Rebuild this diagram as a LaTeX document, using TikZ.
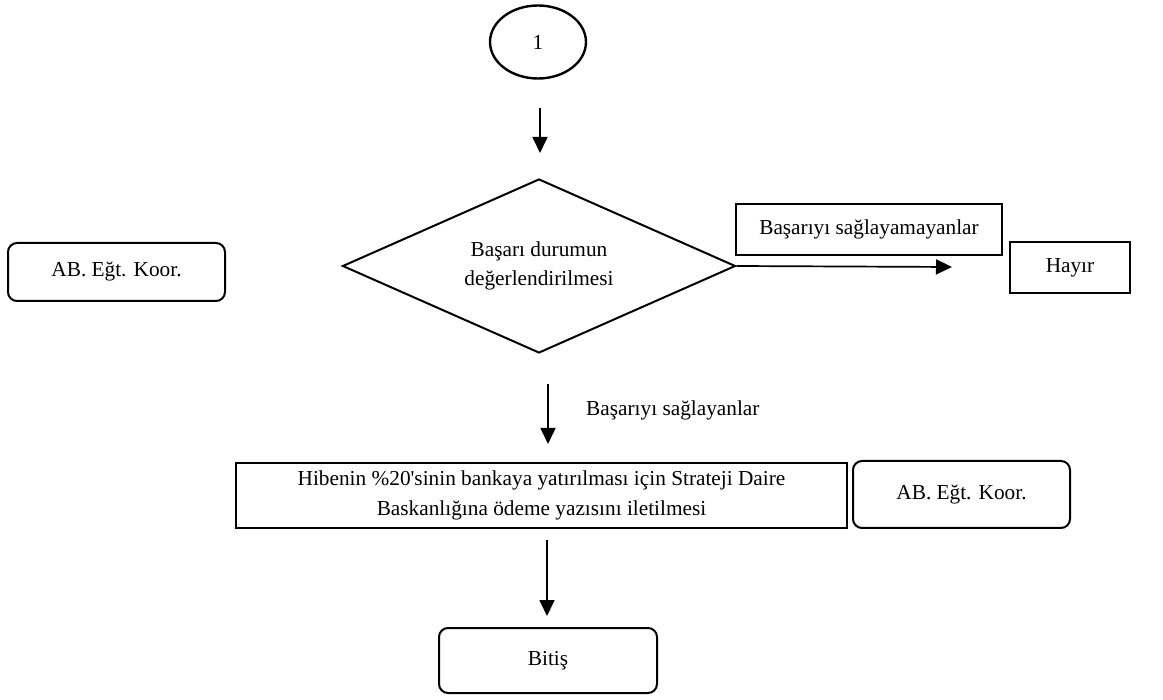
\documentclass[tikz,border=0pt]{standalone}
\usepackage{fontspec}
\setmainfont{Liberation Serif}
\usetikzlibrary{shapes.geometric,arrows.meta}
\begin{document}
\begin{tikzpicture}[x=1pt,y=-1pt,
  every node/.style={font=\fontsize{21.3}{29.5}\selectfont, inner sep=0pt},
  box/.style={draw, line width=2pt, rectangle, align=center},
  rbox/.style={box, rounded corners=9pt},
  arr/.style={line width=1.7pt, -{Triangle[width=15pt,length=16pt]}}]
\useasboundingbox (0,0) rectangle (1163,700);
\node[draw, ellipse, line width=2.4pt, minimum width=96pt, minimum height=73pt] (one) at (538,42) {\raisebox{-4pt}{1}};
\node[draw, diamond, line width=2pt, shape aspect=2.26, minimum width=393pt, minimum height=174pt, align=center] (dia) at (539,266) {Başarı durumun\\değerlendirilmesi};
\node[box, minimum width=266pt, minimum height=51pt] (fail) at (869,229.5) {Başarıyı sağlayamayanlar};
\node[box, minimum width=120pt, minimum height=51pt] (hayir) at (1070,267.5) {Hayır};
\node[rbox, minimum width=217pt, minimum height=58pt] (abL) at (116.5,272) {AB. Eğt. Koor.};
\node[box, minimum width=611pt, minimum height=65pt] (big) at (541.5,495.5) {Hibenin \%20\textquotesingle sinin bankaya yatırılması için Strateji Daire\\Baskanlığına ödeme yazısını iletilmesi};
\node[rbox, minimum width=217pt, minimum height=67pt] (abR) at (961.5,494.5) {AB. Eğt. Koor.};
\node[rbox, minimum width=218pt, minimum height=65pt] (bitis) at (548,660.5) {Bitiş};
\node[anchor=west] (lbl) at (586,410) {Başarıyı sağlayanlar};
\coordinate (a1s) at (540,108);
\coordinate (a1e) at (540,153);
\coordinate (a2e) at (952,267);
\coordinate (a3s) at (548,384);
\coordinate (a3e) at (548,444);
\coordinate (a4s) at (547,540);
\coordinate (a4e) at (547,616);
\draw[arr] (a1s) -- (a1e);
\draw[arr] (dia.east) -- (a2e);
\draw[arr] (a3s) -- (a3e);
\draw[arr] (a4s) -- (a4e);
\end{tikzpicture}
\end{document}
